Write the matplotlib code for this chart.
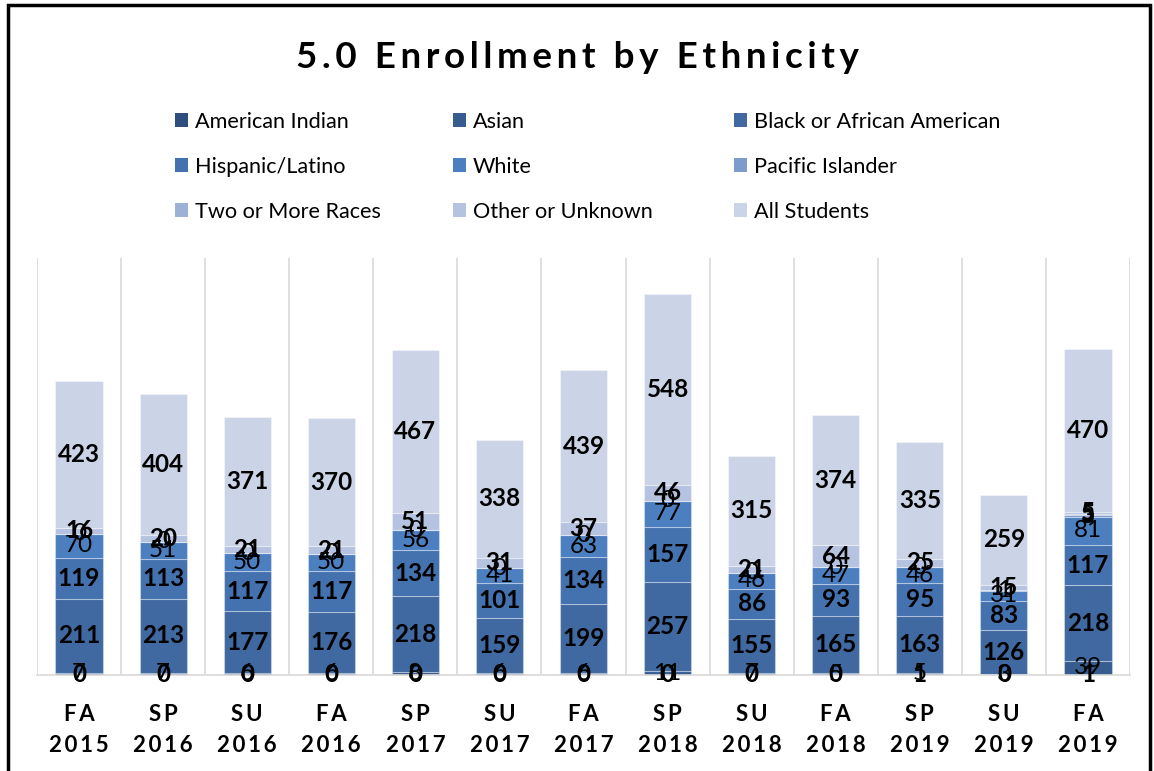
import numpy as np
import matplotlib
matplotlib.use("Agg")
import matplotlib.pyplot as plt
from matplotlib.patches import Rectangle, Patch

plt.rcParams['font.family'] = ['Lato', 'DejaVu Sans']

# data
terms = ['FA\n2015', 'SP\n2016', 'SU\n2016', 'FA\n2016', 'SP\n2017', 'SU\n2017', 'FA\n2017',
         'SP\n2018', 'SU\n2018', 'FA\n2018', 'SP\n2019', 'SU\n2019', 'FA\n2019']
american_indian = [0, 0, 0, 0, 0, 0, 0, 0, 0, 0, 1, 0, 1]
asian = [7, 7, 6, 6, 8, 6, 6, 11, 7, 5, 5, 3, 39]
black = [211, 213, 177, 176, 218, 159, 199, 257, 155, 165, 163, 126, 218]
hispanic = [119, 113, 117, 117, 134, 101, 134, 157, 86, 93, 95, 83, 117]
white = [70, 51, 50, 50, 56, 41, 63, 77, 46, 47, 46, 31, 81]
pacific = [0, 0, 0, 0, 0, 0, 0, 0, 0, 0, 0, 1, 3]
two_or_more = [np.nan] * 12 + [5]
other = [16, 20, 21, 21, 51, 31, 37, 46, 21, 64, 25, 15, 5]
all_students = [423, 404, 371, 370, 467, 338, 439, 548, 315, 374, 335, 259, 470]

series = [
    ('American Indian', american_indian, '#2E4E7E', 'bold'),
    ('Asian', asian, '#375C8F', 'normal'),
    ('Black or African American', black, '#3F69A0', 'bold'),
    ('Hispanic/Latino', hispanic, '#4472AF', 'bold'),
    ('White', white, '#4B7FC0', 'normal'),
    ('Pacific Islander', pacific, '#7D9BCB', 'normal'),
    ('Two or More Races', two_or_more, '#9DB1D6', 'bold'),
    ('Other or Unknown', other, '#B5C3E0', 'bold'),
    ('All Students', all_students, '#CBD4E6', 'bold'),
]


def spaced(s, sep='\u2009'):
    return '\n'.join(sep.join(line) for line in s.split('\n'))


fig = plt.figure(figsize=(11.54, 7.71), dpi=100)
ax = fig.add_axes([37 / 1154, 1 - 675 / 771, (1130 - 37) / 1154, (675 - 258) / 771])

x = np.arange(len(terms))
bottom = np.zeros(len(terms))
handles = []
for name, vals, color, weight in series:
    v = np.array(vals, dtype=float)
    h = np.nan_to_num(v)
    bars = ax.bar(x, h, 0.56, bottom=bottom, color=color,
                  edgecolor=(1, 1, 1, 0.35), linewidth=0.8, zorder=2)
    labels = ['' if np.isnan(a) else '%d' % a for a in v]
    ax.bar_label(bars, labels=labels, label_type='center', fontsize=17.5,
                 fontweight=weight, color='black')
    bottom += h
    handles.append(Patch(facecolor=color, label=name))

ax.set_xlim(-0.5, len(terms) - 0.5)
ax.set_ylim(0, 1200)
ax.set_xticks(x)
ax.set_xticklabels([spaced(t) for t in terms], fontsize=16, fontweight='bold',
                   linespacing=1.55)
ax.set_xticks(np.arange(len(terms) + 1) - 0.5, minor=True)
ax.tick_params(axis='x', which='both', length=0, pad=21)
ax.set_yticks([])
ax.grid(axis='x', which='minor', color='#D9D9D9', linewidth=1.2, zorder=0)
for s in ['top', 'left', 'right']:
    ax.spines[s].set_visible(False)
ax.spines['bottom'].set_color('#D9D9D9')
ax.spines['bottom'].set_linewidth(1.2)

fig.text(0.5, 1 - 57 / 771, spaced('5.0 Enrollment by Ethnicity'),
         ha='center', va='center', fontsize=26.5, fontweight='bold')

# legend: three columns, placed like the original
col_x = [175 / 1154, 453 / 1154, 734 / 1154]
for c in range(3):
    hs = handles[c::3]
    fig.legend(handles=hs, labels=[h.get_label() for h in hs], loc='upper left',
               bbox_to_anchor=(col_x[c], 1 - 112 / 771), frameon=False, fontsize=15.6,
               handlelength=0.62, handleheight=0.62, handletextpad=0.3,
               labelspacing=1.15, borderpad=0, borderaxespad=0)

# outer frame
fig.patches.append(Rectangle((8 / 1154, -0.1), (1150 - 8) / 1154, 1.1 - 5 / 771,
                             transform=fig.transFigure, fill=False,
                             edgecolor='black', linewidth=2.5))

fig.savefig('out.png', dpi=100)
